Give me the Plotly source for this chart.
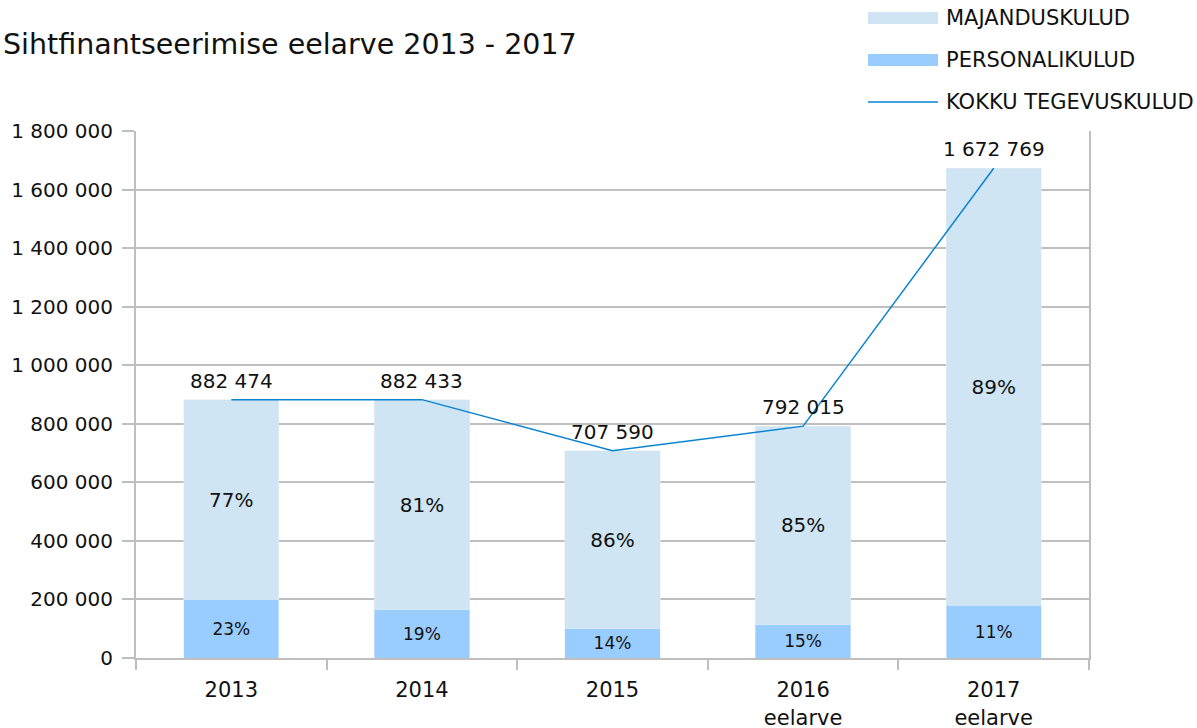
import plotly.graph_objects as go

years = ["2013", "2014", "2015", "2016<br>eelarve", "2017<br>eelarve"]
personal = [200000, 165000, 100000, 114000, 181000]
majandus = [682474, 717433, 607590, 678015, 1491769]
total = [882474, 882433, 707590, 792015, 1672769]
pct_personal = ["23%", "19%", "14%", "15%", "11%"]
pct_majandus = ["77%", "81%", "86%", "85%", "89%"]
legend_names = ["MAJANDUSKULUD", "PERSONALIKULUD", "KOKKU TEGEVUSKULUD"]
title_text = "Sihtfinantseerimise eelarve 2013 - 2017"

C_MAJ = "#CFE5F3"
C_PER = "#99CCFF"
C_LINE = "#0A84D0"
GRID = "#BFBFBF"
TXT = "#111111"
FONT = "DejaVu Sans"

W, H = 1197, 728
L, R, T, B = 136, 1089, 131, 658

fig = go.Figure()
fig.add_trace(go.Bar(x=years, y=personal, name=legend_names[1], marker_color=C_PER,
                     text=pct_personal, textposition="inside", insidetextanchor="middle",
                     textfont=dict(size=17, color=TXT, family=FONT), showlegend=False,
                     hoverinfo="y"))
fig.add_trace(go.Bar(x=years, y=majandus, name=legend_names[0], marker_color=C_MAJ,
                     text=pct_majandus, textposition="inside", insidetextanchor="middle",
                     textfont=dict(size=20, color=TXT, family=FONT), showlegend=False,
                     hoverinfo="y"))
fig.add_trace(go.Scatter(x=years, y=total, name=legend_names[2], mode="lines",
                         line=dict(color=C_LINE, width=1.5), showlegend=False))

def px_x(p):
    return (p - L) / (R - L)

def px_y(p):
    return (B - p) / (B - T)

shapes = []
annotations = []

# data labels on the total line (category axis: x given as category serial number)
for i, yv in enumerate(total):
    annotations.append(dict(x=i, y=yv, xref="x", yref="y", text=f"{yv:,}".replace(",", " "),
                            showarrow=False, yshift=19, yanchor="middle",
                            font=dict(size=20, color=TXT, family=FONT)))

# legend
legend_rows = [18, 60, 102]
for i, (name, yc) in enumerate(zip(legend_names, legend_rows)):
    if i < 2:
        shapes.append(dict(type="rect", xref="paper", yref="paper",
                           x0=px_x(868), x1=px_x(938), y0=px_y(yc + 6), y1=px_y(yc - 6),
                           fillcolor=[C_MAJ, C_PER][i], line=dict(width=0)))
    else:
        shapes.append(dict(type="line", xref="paper", yref="paper",
                           x0=px_x(868), x1=px_x(938), y0=px_y(yc), y1=px_y(yc),
                           line=dict(color=C_LINE, width=1.5)))
    annotations.append(dict(text=name, xref="paper", yref="paper", x=px_x(944), y=px_y(yc),
                            xanchor="left", yanchor="middle", showarrow=False,
                            font=dict(size=21, color=TXT, family=FONT)))

# title
annotations.append(dict(text=title_text, xref="paper", yref="paper", x=px_x(1), y=px_y(44),
                        xanchor="left", yanchor="middle", showarrow=False,
                        font=dict(size=28.5, color=TXT, family=FONT)))

fig.update_layout(
    width=W, height=H,
    margin=dict(l=L, r=W - R, t=T, b=H - B, pad=0, autoexpand=False),
    paper_bgcolor="white", plot_bgcolor="white",
    barmode="stack", bargap=0.5,
    separators=", ",
    font=dict(family=FONT, size=20, color=TXT),
    shapes=shapes, annotations=annotations,
)

fig.update_xaxes(type="category", showline=True, linecolor=GRID, linewidth=2,
                 ticks="outside", tickson="boundaries", ticklen=10, tickcolor=GRID,
                 tickwidth=2, showgrid=False, ticklabelstandoff=12, automargin=False,
                 tickangle=0, tickfont=dict(size=21, color=TXT, family=FONT))
fig.update_yaxes(range=[0, 1800000], dtick=200000, tickformat=",d", showline=True,
                 mirror=True, linecolor=GRID, linewidth=2, ticks="outside", ticklen=12,
                 tickcolor=GRID, tickwidth=2, gridcolor=GRID, gridwidth=2,
                 ticklabelstandoff=5, automargin=False,
                 tickfont=dict(size=20, color=TXT, family=FONT), zeroline=False)

fig.write_html("out.html", config={"displayModeBar": False},
               post_script="document.body.style.margin='0';document.body.style.overflow='hidden';")
